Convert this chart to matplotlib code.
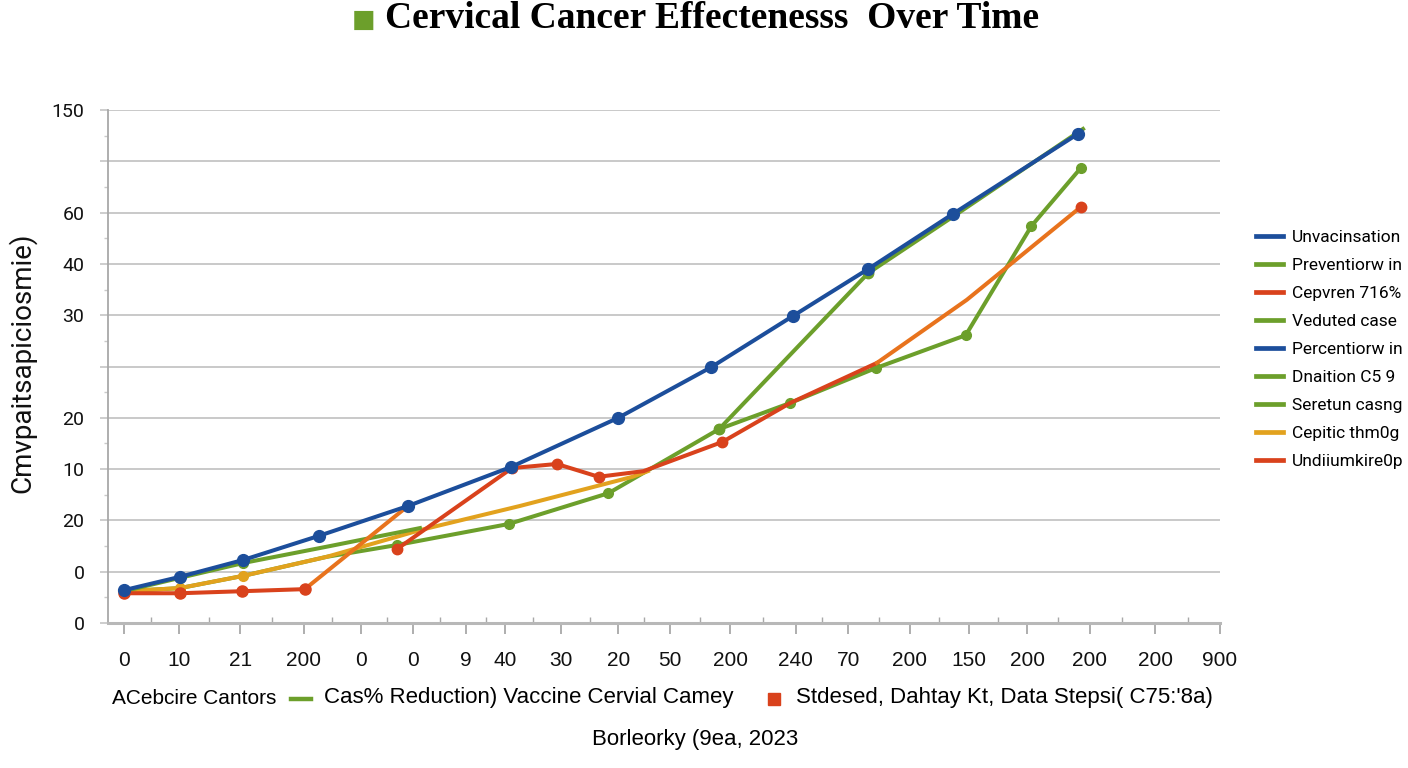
import matplotlib
matplotlib.use("Agg")
import matplotlib.pyplot as plt
from matplotlib import font_manager
from matplotlib.lines import Line2D
import numpy as np

# ---------------- data ----------------
x_tick_pos = [0, 5.0, 10.6, 16.4, 21.6, 26.4, 31.2, 34.8, 39.9, 45.1, 49.8,
              55.3, 61.3, 66.1, 71.7, 77.1, 82.4, 88.1, 94.1, 100]
x_tick_labels = ['0', '10', '21', '200', '0', '0', '9', '40', '30', '20', '50',
                 '200', '240', '70', '200', '150', '200', '200', '200', '900']
y_tick_labels = ['0', '0', '20', '10', '20', '', '30', '40', '60', '', '150']

blue_x = [0, 5.1, 10.9, 17.8, 25.9, 35.3, 45.1, 53.6, 61.0, 67.9, 75.6, 87.0]
blue_y = [0.64, 0.90, 1.23, 1.70, 2.28, 3.04, 4.00, 4.99, 5.98, 6.90, 7.97, 9.53]

steep_green_x = [54.3, 67.9, 75.7, 87.5]
steep_green_y = [3.78, 6.82, 7.93, 9.63]

low_green_x = [0, 5.1, 10.9, 18.5, 24.9, 35.1, 44.2, 54.3, 60.8, 68.6, 76.8, 82.8, 87.3]
low_green_y = [0.62, 0.68, 0.92, 1.29, 1.52, 1.93, 2.53, 3.78, 4.29, 4.97, 5.61, 7.74, 8.87]

yellow_x = [0, 5.1, 10.9, 18.5, 27.0, 36.1, 46.4, 47.8]
yellow_y = [0.62, 0.68, 0.92, 1.29, 1.81, 2.28, 2.85, 2.96]

up_green_x = [0, 5.1, 10.9, 18.8, 27.0]
up_green_y = [0.62, 0.88, 1.17, 1.50, 1.85]

red_flat_x = [0, 5.1, 10.8, 16.5]
red_flat_y = [0.58, 0.58, 0.62, 0.66]
orange_rise_x = [16.5, 25.9]
orange_rise_y = [0.66, 2.28]

red_mid_x = [24.9, 35.4, 39.5, 43.3, 47.4, 54.6, 60.8, 68.7]
red_mid_y = [1.44, 3.02, 3.10, 2.85, 2.96, 3.53, 4.29, 5.07]
orange_end_x = [68.7, 76.9, 87.3]
orange_end_y = [5.07, 6.30, 8.11]

legend_labels = ['Unvacinsation', 'Preventiorw in', 'Cepvren 716%', 'Veduted case',
                 'Percentiorw in', 'Dnaition C5 9', 'Seretun casng', 'Cepitic thm0g',
                 'Undiiumkire0p']

title_text = 'Cervical Cancer Effectenesss  Over Time'
y_label = 'Cmvpaitsapiciosmie)'
bottom_1 = 'ACebcire Cantors'
bottom_2 = 'Cas% Reduction) Vaccine Cervial Camey'
bottom_3 = "Stdesed, Dahtay Kt, Data Stepsi( C75:'8a)"
source_text = 'Borleorky (9ea, 2023'

# ---------------- style ----------------
BLUE = '#1C4E9B'
GREEN = '#6C9F2B'
RED = '#D9421C'
ORANGE = '#E8731D'
YELLOW = '#E2A21E'
GRID = '#C9C9C9'
TICK = '#A8A8A8'

avail = {f.name for f in font_manager.fontManager.ttflist}
sans = 'Roboto' if 'Roboto' in avail else 'DejaVu Sans'
narrow = 'Liberation Sans Narrow' if 'Liberation Sans Narrow' in avail else 'Liberation Sans'
serif = 'Liberation Serif' if 'Liberation Serif' in avail else 'DejaVu Serif'
plt.rcParams['font.family'] = [sans, 'DejaVu Sans']

W, H = 1408, 768
fig = plt.figure(figsize=(14.08, 7.68), dpi=100)
ax = fig.add_axes([108 / W, 1 - 623 / H, (1220 - 108) / W, (623 - 110) / H])

lw = 2.9
ax.plot(low_green_x, low_green_y, color=GREEN, lw=lw, marker='o', ms=7,
        markevery=list(range(4, len(low_green_x))), zorder=3, label=legend_labels[3])
ax.plot(yellow_x, yellow_y, color=YELLOW, lw=lw, marker='o', ms=7,
        markevery=[0, 1, 2], zorder=4, label=legend_labels[7])
ax.plot(up_green_x, up_green_y, color=GREEN, lw=lw, marker='o', ms=7,
        markevery=[0, 1, 2], zorder=4, label=legend_labels[5])
ax.plot(orange_rise_x, orange_rise_y, color=ORANGE, lw=lw, zorder=4)
ax.plot(red_flat_x, red_flat_y, color=RED, lw=lw, marker='o', ms=8, zorder=5,
        label=legend_labels[8])
ax.plot(red_mid_x, red_mid_y, color=RED, lw=lw, marker='o', ms=7.5,
        markevery=[0, 1, 2, 3, 5], zorder=5, label=legend_labels[2])
ax.plot(orange_end_x, orange_end_y, color=ORANGE, lw=lw, marker='o', ms=7.5,
        markevery=[2], mfc=RED, mec=RED, zorder=5)
ax.plot(steep_green_x, steep_green_y, color=GREEN, lw=lw, marker='o', ms=7.5,
        markevery=[0, 1], zorder=5, label=legend_labels[1])
ax.plot(blue_x, blue_y, color=BLUE, lw=lw, marker='o', ms=8.5, zorder=6,
        label=legend_labels[0])

# axes
ax.set_xlim((108 - 124) / 10.96, 100)
ax.set_ylim(0, 10)
ax.set_yticks(range(11))
ax.set_yticklabels(y_tick_labels)
ax.set_yticks(np.arange(0.5, 10, 1), minor=True)
ax.set_xticks(x_tick_pos)
ax.set_xticklabels(x_tick_labels)
ax.set_xticks([(a + b) / 2 for a, b in zip(x_tick_pos[:-1], x_tick_pos[1:])], minor=True)

ax.grid(axis='y', color=GRID, lw=1.4, zorder=0)
ax.set_axisbelow(True)
for s in ['top', 'right']:
    ax.spines[s].set_visible(False)
ax.spines['left'].set_color(TICK)
ax.spines['left'].set_linewidth(1.3)
ax.spines['bottom'].set_color('#B8B8B8')
ax.spines['bottom'].set_linewidth(2.2)

ax.tick_params(axis='y', which='major', length=6, width=1.3, color=GRID,
               pad=11, labelsize=14, labelcolor='#111111')
ax.tick_params(axis='y', which='minor', length=3, width=1, color=GRID)
ax.tick_params(axis='x', which='major', length=8, width=1.3, color=TICK,
               pad=12, labelsize=15, labelcolor='#111111')
ax.tick_params(axis='x', which='minor', direction='in', length=4, width=1, color=TICK)
for t in ax.get_xticklabels():
    t.set_fontfamily([narrow, 'DejaVu Sans'])

fig.text(22 / W, 1 - 363 / H, y_label, rotation=90, fontsize=20, ha='center',
         va='center', color='#111111')

# legend
h = {l.get_label(): l for l in ax.get_lines()}
handles = []
colors_for = {legend_labels[4]: BLUE, legend_labels[6]: GREEN}
for lab in legend_labels:
    c = h[lab].get_color() if lab in h else colors_for[lab]
    handles.append(Line2D([], [], color=c, lw=3.4))
fig.legend(handles, legend_labels, loc='upper left', bbox_to_anchor=(1256 / W, 1 - 230 / H),
           frameon=False, fontsize=12.5, handlelength=1.55, handletextpad=0.5,
           labelspacing=0.74, borderpad=0, borderaxespad=0)

# title
fig.text(364 / W, 1 - 20 / H, '\u25A0', color=GREEN, fontsize=18,
         ha='center', va='center', family='DejaVu Sans')
fig.text(712 / W, 1 - 19 / H, title_text, fontsize=27, fontweight='bold',
         ha='center', va='center', family=[serif, 'DejaVu Serif'])

# bottom lines
yb = 1 - 698 / H
fs_b = 16
fig.text(112 / W, yb, bottom_1, fontsize=15, ha='left', va='center',
         family=[narrow, 'DejaVu Sans'])
fig.add_artist(Line2D([291 / W, 311 / W], [1 - 699 / H, 1 - 699 / H], color=GREEN,
                      lw=3.2, transform=fig.transFigure))
fig.text(324 / W, yb, bottom_2, fontsize=fs_b, ha='left', va='center',
         family=[narrow, 'DejaVu Sans'])
fig.add_artist(Line2D([774 / W], [1 - 699 / H], color=RED, marker='s', ms=8,
                      lw=0, transform=fig.transFigure))
fig.text(796 / W, yb, bottom_3, fontsize=fs_b, ha='left', va='center',
         family=[narrow, 'DejaVu Sans'])
fig.text(695 / W, 1 - 740 / H, source_text, fontsize=fs_b, ha='center', va='center',
         family=[narrow, 'DejaVu Sans'])

fig.savefig('out.png', dpi=100)
